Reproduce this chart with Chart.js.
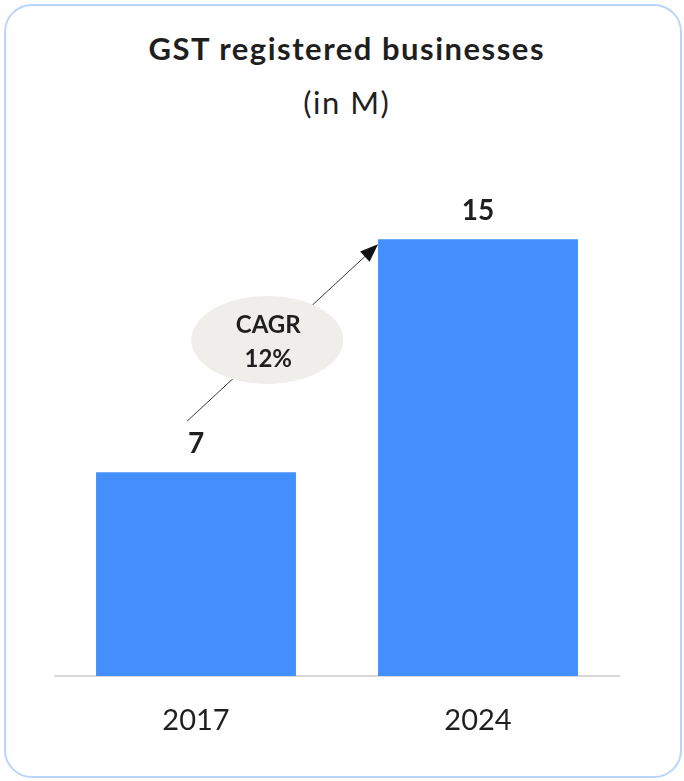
<!DOCTYPE html>
<html>
<head>
<meta charset="utf-8">
<title>GST registered businesses</title>
<script src="https://cdn.jsdelivr.net/npm/chart.js@4/dist/chart.umd.min.js"></script>
<style>
  html, body { margin: 0; padding: 0; background: #ffffff; }
  #wrap { position: relative; width: 684px; height: 781px; overflow: hidden; }
  #card {
    position: absolute; left: 4px; top: 4px; width: 678px; height: 774px;
    box-sizing: border-box; border: 2px solid #b9d5fb; border-radius: 28px;
  }
  .ttl {
    position: absolute; left: 0; width: 692px; text-align: center;
    font-family: Lato, "Open Sans", sans-serif; font-size: 31px; line-height: 31px;
    letter-spacing: 1.5px; padding-left: 1.5px; box-sizing: border-box;
    color: #1f1f1f; white-space: nowrap;
  }
  #title { top: 33px; font-weight: 700; }
  #subtitle { top: 87px; font-weight: 400; }
  canvas { position: absolute; left: 0; top: 0; }
</style>
</head>
<body>
<div id="wrap">
  <div id="card"></div>
  <div class="ttl" id="title">GST registered businesses</div>
  <div class="ttl" id="subtitle">(in M)</div>
  <canvas id="chart" width="684" height="781"></canvas>
</div>
<script>
// Registered businesses, in millions
const years = ['2017', '2024'];
const businesses = [7, 15];
const barColor = '#4390fd';
const textColor = '#1f1f1f';
const fontFamily = 'Lato, "Open Sans", sans-serif';

// Compound annual growth between the first and last year
const span = Number(years[years.length - 1]) - Number(years[0]);
const cagr = Math.pow(businesses[businesses.length - 1] / businesses[0], 1 / span) - 1;
const cagrText = Math.round(cagr * 100) + '%';

// Value labels above each bar, plus the CAGR arrow and bubble
const annotations = {
  id: 'annotations',
  afterDatasetsDraw(chart) {
    const ctx = chart.ctx;
    const bars = chart.getDatasetMeta(0).data;

    ctx.save();
    ctx.fillStyle = textColor;
    ctx.font = 'bold 28px ' + fontFamily;
    ctx.textAlign = 'center';
    ctx.textBaseline = 'alphabetic';
    bars.forEach((bar, i) => {
      ctx.fillText(String(businesses[i]), bar.x, bar.y - 19);
    });

    // arrow from above the first label to the top-left corner of the last bar
    const first = bars[0];
    const last = bars[bars.length - 1];
    const x1 = first.x - 9, y1 = first.y - 51;
    const x2 = last.x - last.width / 2, y2 = last.y + 5;
    const ang = Math.atan2(y2 - y1, x2 - x1);
    const headLen = 18, headHalf = 7;

    ctx.strokeStyle = '#3a3a3a';
    ctx.lineWidth = 1;
    ctx.beginPath();
    ctx.moveTo(x1, y1);
    ctx.lineTo(x2 - Math.cos(ang) * headLen * 0.8, y2 - Math.sin(ang) * headLen * 0.8);
    ctx.stroke();

    ctx.fillStyle = '#111111';
    ctx.beginPath();
    ctx.moveTo(x2, y2);
    ctx.lineTo(x2 - Math.cos(ang) * headLen - Math.sin(ang) * headHalf,
               y2 - Math.sin(ang) * headLen + Math.cos(ang) * headHalf);
    ctx.lineTo(x2 - Math.cos(ang) * headLen + Math.sin(ang) * headHalf,
               y2 - Math.sin(ang) * headLen - Math.cos(ang) * headHalf);
    ctx.closePath();
    ctx.fill();

    // CAGR bubble sitting on the arrow
    const t = 0.42;
    const cx = x1 + (x2 - x1) * t;
    const cy = y1 + (y2 - y1) * t - 7;
    ctx.fillStyle = '#efeeeb';
    ctx.beginPath();
    ctx.ellipse(cx, cy, 76, 44, 0, 0, Math.PI * 2);
    ctx.fill();

    ctx.fillStyle = textColor;
    ctx.font = 'bold 24px ' + fontFamily;
    ctx.fillText('CAGR', cx + 1, cy - 7);
    ctx.fillText(cagrText, cx + 1, cy + 27);
    ctx.restore();
  }
};

new Chart(document.getElementById('chart'), {
  type: 'bar',
  data: {
    labels: years,
    datasets: [{
      data: businesses,
      backgroundColor: barColor,
      borderWidth: 0,
      barPercentage: 0.709,
      categoryPercentage: 1.0
    }]
  },
  options: {
    responsive: false,
    animation: false,
    devicePixelRatio: 1,
    layout: { padding: { left: 55, right: 65, top: 152, bottom: 0 } },
    plugins: {
      legend: { display: false },
      title: { display: false },
      tooltip: { enabled: false }
    },
    scales: {
      x: {
        grid: { display: false, drawTicks: false },
        border: { display: true, color: '#d9d9d9', width: 2 },
        ticks: {
          color: textColor,
          padding: 27,
          font: { family: fontFamily, size: 29, weight: '400' }
        },
        afterFit(scale) { scale.height = 105; }
      },
      y: {
        display: false,
        min: 0,
        max: 18
      }
    }
  },
  plugins: [annotations]
});
</script>
</body>
</html>
